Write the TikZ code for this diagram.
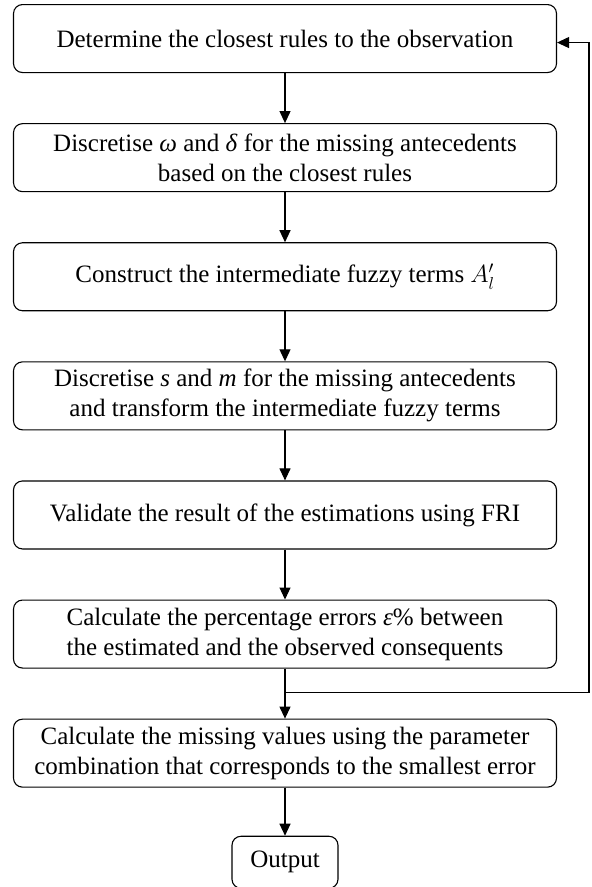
\documentclass[tikz,border=0pt]{standalone}
\usepackage{fontspec}
\setmainfont{Liberation Serif}
\usetikzlibrary{arrows.meta,positioning}

\begin{document}
\begin{tikzpicture}[
  x=1pt, y=1pt,
  font=\fontsize{25}{30}\selectfont,
  stepbox/.style={draw, rounded corners=9pt, minimum width=543pt, minimum height=68pt, align=center, inner sep=2pt, line width=1.1pt},
  arr/.style={-{Triangle[length=12pt,width=11pt]}, line width=1.1pt}
]
\useasboundingbox (0,0) rectangle (592,-887);
% --- main steps
\node[stepbox, anchor=north] (rules) at (285,-4) {Determine the closest rules to the observation};
\node[stepbox, below=50pt of rules] (disc) {Discretise \textit{ω} and \textit{δ} for the missing antecedents\\based on the closest rules};
\node[stepbox, below=50pt of disc] (inter) {Construct the intermediate fuzzy terms $A'_l$};
\node[stepbox, below=50pt of inter] (trans) {Discretise \textit{s} and \textit{m} for the missing antecedents\\and transform the intermediate fuzzy terms};
\node[stepbox, below=50pt of trans] (valid) {Validate the result of the estimations using FRI};
\node[stepbox, below=50pt of valid] (err) {Calculate the percentage errors \textit{ε}\% between\\the estimated and the observed consequents};
\node[stepbox, below=50pt of err] (calc) {Calculate the missing values using the parameter\\combination that corresponds to the smallest error};
\node[stepbox, minimum width=106pt, minimum height=52pt, below=48pt of calc] (out) {Output};
\foreach \a/\b in {rules/disc,disc/inter,inter/trans,trans/valid,valid/err,err/calc,calc/out}
  \draw[arr] (\a) -- (\b);

% --- loop back to the first step
\coordinate (fb) at ([yshift=-24pt]err.south);
\draw[arr] (fb) -- ++(304,0) |- ([yshift=-4pt]rules.east);
\end{tikzpicture}
\end{document}
